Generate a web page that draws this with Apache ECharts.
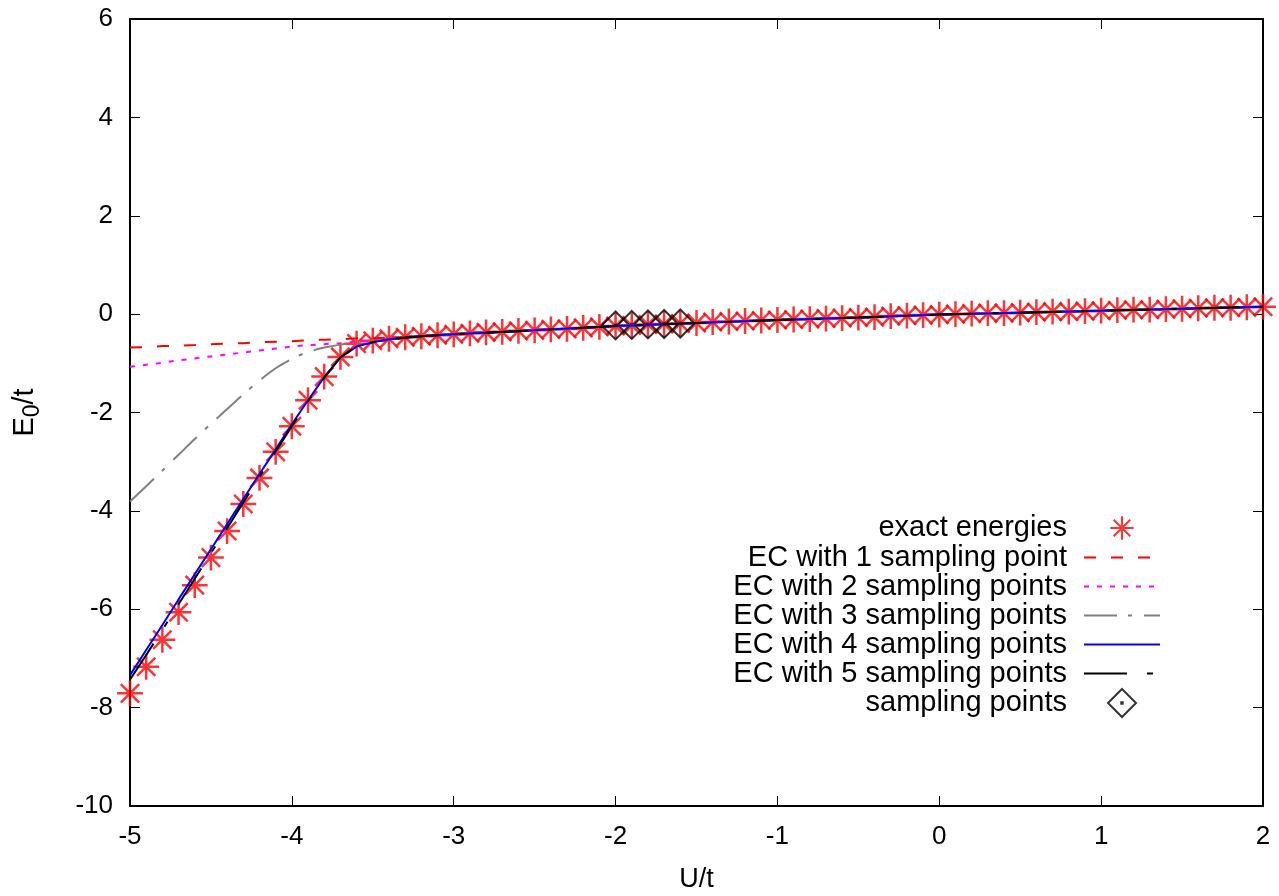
<!DOCTYPE html>
<html><head><meta charset="utf-8">
<script src="https://cdn.jsdelivr.net/npm/echarts@6/dist/echarts.min.js"></script>
<style>html,body{margin:0;padding:0;background:#fff}#c{width:1279px;height:896px}</style>
</head><body><div id="c"></div>
<script>
// ---- data ----
const exactU = [-5.0,-4.9,-4.8,-4.7,-4.6,-4.5,-4.4,-4.3,-4.2,-4.1,-4.0,-3.9,-3.8,-3.7,-3.6,-3.5,-3.4,-3.3,-3.2,-3.1,
  -3.0,-2.9,-2.8,-2.7,-2.6,-2.5,-2.4,-2.3,-2.2,-2.1,-2.0,-1.9,-1.8,-1.7,-1.6,-1.5,-1.4,-1.3,-1.2,-1.1,
  -1.0,-0.9,-0.8,-0.7,-0.6,-0.5,-0.4,-0.3,-0.2,-0.1,0.0,0.1,0.2,0.3,0.4,0.5,0.6,0.7,0.8,0.9,
  1.0,1.1,1.2,1.3,1.4,1.5,1.6,1.7,1.8,1.9,2.0];
const exactE = [-7.71,-7.17,-6.62,-6.06,-5.51,-4.95,-4.41,-3.86,-3.33,-2.80,-2.28,-1.75,-1.27,-0.87,-0.60,-0.54,-0.50,-0.47,-0.45,-0.43,
  -0.41,-0.39,-0.37,-0.36,-0.34,-0.33,-0.31,-0.30,-0.28,-0.26,-0.24,-0.23,-0.21,-0.20,-0.19,-0.18,-0.16,-0.15,-0.14,-0.13,
  -0.12,-0.11,-0.10,-0.09,-0.08,-0.07,-0.06,-0.04,-0.03,-0.02,-0.01,0.00,0.01,0.02,0.02,0.03,0.04,0.05,0.05,0.06,
  0.07,0.08,0.09,0.09,0.10,0.11,0.12,0.13,0.13,0.14,0.15];

const ecU = [-5.0,-4.9,-4.8,-4.7,-4.6,-4.5,-4.4,-4.3,-4.2,-4.1,-4.0,-3.9,-3.8,-3.7,-3.6,-3.5,-3.4,
  -3.2,-3.0,-2.5,-2.0,-1.5,-1.0,-0.5,0.0,0.5,1.0,1.5,2.0];
const ec1 = [-0.68,-0.67,-0.65,-0.64,-0.63,-0.61,-0.60,-0.59,-0.57,-0.56,-0.55,-0.53,-0.52,-0.51,-0.49,-0.49,-0.48,
  -0.45,-0.42,-0.33,-0.24,-0.18,-0.12,-0.07,-0.01,0.03,0.07,0.11,0.15];
const ec2 = [-1.07,-1.03,-0.99,-0.94,-0.90,-0.86,-0.82,-0.78,-0.74,-0.70,-0.66,-0.63,-0.61,-0.59,-0.56,-0.54,-0.50,
  -0.45,-0.41,-0.33,-0.24,-0.18,-0.12,-0.07,-0.01,0.03,0.07,0.11,0.15];
const ec3 = [-3.81,-3.50,-3.18,-2.86,-2.54,-2.23,-1.93,-1.63,-1.35,-1.10,-0.91,-0.77,-0.68,-0.62,-0.58,-0.55,-0.51,
  -0.45,-0.41,-0.33,-0.24,-0.18,-0.12,-0.07,-0.01,0.03,0.07,0.11,0.15];
const ec4 = [-7.34,-6.83,-6.32,-5.80,-5.29,-4.78,-4.27,-3.76,-3.25,-2.75,-2.24,-1.75,-1.28,-0.88,-0.66,-0.57,-0.51,
  -0.45,-0.41,-0.33,-0.24,-0.18,-0.12,-0.07,-0.01,0.03,0.07,0.11,0.15];
const ec5 = [-7.43,-6.93,-6.42,-5.90,-5.38,-4.86,-4.35,-3.83,-3.31,-2.79,-2.28,-1.77,-1.29,-0.88,-0.65,-0.57,-0.51,
  -0.45,-0.41,-0.33,-0.24,-0.18,-0.12,-0.07,-0.01,0.03,0.07,0.11,0.15];

const sampU = [-2.0,-1.9,-1.8,-1.7,-1.6];
const sampE = [-0.23,-0.22,-0.21,-0.20,-0.19];

const names = ['exact energies','EC with 1 sampling point','EC with 2 sampling points','EC with 3 sampling points',
  'EC with 4 sampling points','EC with 5 sampling points','sampling points'];

// ---- chart ----
const FONT = 'Liberation Sans, Arial, Helvetica, sans-serif';
const zip = (xs, ys) => xs.map((x, i) => [x, ys[i]]);
const STAR = 'path://M-1.2,-1.2L-1.2,-1.2M1.2,1.2L1.2,1.2M0,-1L0,1M-1,0L1,0M-0.71,-0.71L0.71,0.71M-0.71,0.71L0.71,-0.71';
const DIAMOND = 'path://M0,-1L1,0L0,1L-1,0ZM-0.05,-0.05L0.05,-0.05L0.05,0.05L-0.05,0.05Z';

function lineSeries(name, ys, color, type, smooth) {
  return {
    name, type: 'line', data: zip(ecU, ys), symbol: 'none', showSymbol: false, smooth: smooth || false,
    lineStyle: { color, width: 2, type }, itemStyle: { color },
    silent: true, animation: false
  };
}

const axisCommon = {
  axisLine: { show: true, onZero: false, lineStyle: { color: '#000', width: 2 } },
  axisTick: { show: true, inside: true, length: 10, lineStyle: { color: '#000', width: 1 } },
  splitLine: { show: false }
};

const chart = echarts.init(document.getElementById('c'), null, { renderer: 'canvas' });
chart.setOption({
  animation: false,
  backgroundColor: '#fff',
  grid: { left: 130, right: 16, top: 19, bottom: 90, containLabel: false, outerBoundsMode: 'none' },
  xAxis: [
    Object.assign({ type: 'value', min: -5, max: 2, interval: 1, position: 'bottom',
      name: 'U/t', nameLocation: 'middle', nameGap: 60,
      nameTextStyle: { fontSize: 27, color: '#000', fontFamily: FONT },
      axisLabel: { color: '#000', fontSize: 26, margin: 18, fontFamily: FONT } }, axisCommon),
    Object.assign({ type: 'value', min: -5, max: 2, interval: 1, position: 'top',
      axisLabel: { show: false } }, axisCommon)
  ],
  yAxis: [
    Object.assign({ type: 'value', min: -10, max: 6, interval: 2, position: 'left',
      name: '{a|E}{s|0}{a|/t}', nameLocation: 'middle', nameGap: 86,
      nameTextStyle: { color: '#000', fontFamily: FONT, rich: {
        a: { fontSize: 29, color: '#000', fontFamily: FONT },
        s: { fontSize: 23, color: '#000', fontFamily: FONT, padding: [15, 0, 0, 0] } } },
      axisLabel: { color: '#000', fontSize: 26, margin: 17, fontFamily: FONT } }, axisCommon),
    Object.assign({ type: 'value', min: -10, max: 6, interval: 2, position: 'right',
      axisLabel: { show: false } }, axisCommon)
  ],
  legend: {
    orient: 'vertical', align: 'right', right: 118, top: 513, padding: 0,
    itemWidth: 76, itemHeight: 28, itemGap: 0, symbolKeepAspect: true, selectedMode: false,
    textStyle: { fontFamily: FONT, fontSize: 29, color: '#000', lineHeight: 29, padding: [0, 12, 0, 0] },
    data: [
      { name: names[0] },
      { name: names[1], itemStyle: { opacity: 0 } },
      { name: names[2], itemStyle: { opacity: 0 } },
      { name: names[3], itemStyle: { opacity: 0 } },
      { name: names[4], itemStyle: { opacity: 0 } },
      { name: names[5], itemStyle: { opacity: 0 } },
      { name: names[6] }
    ]
  },
  series: [
    { name: names[0], type: 'scatter', data: zip(exactU, exactE), symbol: STAR, symbolSize: 31,
      itemStyle: { color: 'transparent', borderColor: '#ff0000', borderWidth: 2.5 }, silent: true },
    lineSeries(names[1], ec1, '#ff0000', [12, 15]),
    lineSeries(names[2], ec2, '#ff00ff', [5, 8]),
    lineSeries(names[3], ec3, '#808080', [33, 11, 4, 12], 0.3),
    lineSeries(names[4], ec4, '#0000ff', 'solid'),
    lineSeries(names[5], ec5, '#000000', [43, 20, 6, 20]),
    { name: names[6], type: 'scatter', data: zip(sampU, sampE), symbol: DIAMOND, symbolSize: 28,
      itemStyle: { color: 'transparent', borderColor: '#000', borderWidth: 2 }, silent: true }
  ]
});
</script>
</body></html>
